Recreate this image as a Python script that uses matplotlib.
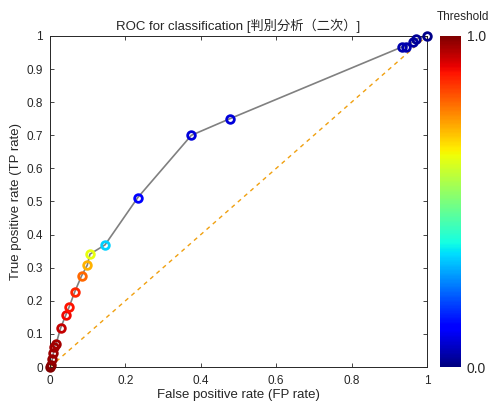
import numpy as np
import matplotlib
matplotlib.use('Agg')
import matplotlib.pyplot as plt
from matplotlib import cm, colors

plt.rcParams['font.family'] = ['Liberation Sans', 'Noto Sans CJK JP', 'DejaVu Sans']

# ROC points (ordered from threshold 1 down to 0)
fp_rate = [0.0, 0.002, 0.006, 0.009, 0.011, 0.016, 0.028, 0.042, 0.051, 0.066,
           0.084, 0.099, 0.106, 0.146, 0.233, 0.375, 0.477, 0.934, 0.944,
           0.963, 0.971, 1.0]
tp_rate = [0.0, 0.006, 0.023, 0.042, 0.061, 0.069, 0.117, 0.157, 0.182, 0.228,
           0.276, 0.308, 0.341, 0.369, 0.512, 0.700, 0.750, 0.967, 0.967,
           0.983, 0.990, 1.0]
threshold = [1.0, 0.99, 0.98, 0.975, 0.97, 0.965, 0.94, 0.90, 0.89, 0.87,
             0.80, 0.72, 0.63, 0.33, 0.12, 0.08, 0.08, 0.04, 0.04,
             0.03, 0.02, 0.01]

fig = plt.figure(figsize=(4.92, 4.03), dpi=100)
ax = fig.add_axes([0.1016, 0.0893, 0.7662, 0.8214])

txt = '#262626'
ax.plot([0, 1], [0, 1], '--', color='#f0a010', lw=1.0, dashes=(3, 3), zorder=1)
ax.plot(fp_rate, tp_rate, '-', color='#808080', lw=1.2, zorder=2)
norm = colors.Normalize(0, 1)
cmap = plt.get_cmap('jet')
for x, y, t in zip(fp_rate, tp_rate, threshold):
    ax.plot(x, y, 'o', ms=5.5, mfc='none', mec=cmap(norm(t)), mew=2.0, zorder=3,
            clip_on=False)

ax.set_xlim(0, 1)
ax.set_ylim(0, 1)
ax.set_xticks([0, 0.2, 0.4, 0.6, 0.8, 1.0])
ax.set_xticklabels(['0', '0.2', '0.4', '0.6', '0.8', '1'])
ax.set_yticks(np.round(np.arange(0, 1.01, 0.1), 1))
ax.set_yticklabels(['0', '0.1', '0.2', '0.3', '0.4', '0.5', '0.6', '0.7', '0.8', '0.9', '1'])
ax.tick_params(direction='in', top=True, right=True, length=3, width=0.6,
               labelsize=8.5, colors=txt)
ax.tick_params(axis='x', pad=6)
ax.tick_params(axis='y', pad=5)
for s in ax.spines.values():
    s.set_color('#262626')
    s.set_linewidth(0.7)

ax.set_title('ROC for classification [判別分析（二次）]', fontsize=9.5, color=txt, pad=4)
ax.set_xlabel('False positive rate (FP rate)', fontsize=9.5, color=txt, labelpad=1)
ax.set_ylabel('True positive rate (TP rate)', fontsize=9.5, color=txt, labelpad=3)

cax = fig.add_axes([0.894, 0.0893, 0.043, 0.8214])
cb = fig.colorbar(cm.ScalarMappable(norm=norm, cmap=cmap), cax=cax)
cb.set_ticks([0, 1])
cb.set_ticklabels(['0.0', '1.0'])
cb.outline.set_visible(False)
cax.tick_params(length=0, labelsize=10, colors=txt, pad=4)
fig.text(437 / 492, 1 - 17 / 403, 'Threshold', fontsize=8.5, color=txt,
         ha='left', va='center')

fig.savefig('out.png', dpi=100)
